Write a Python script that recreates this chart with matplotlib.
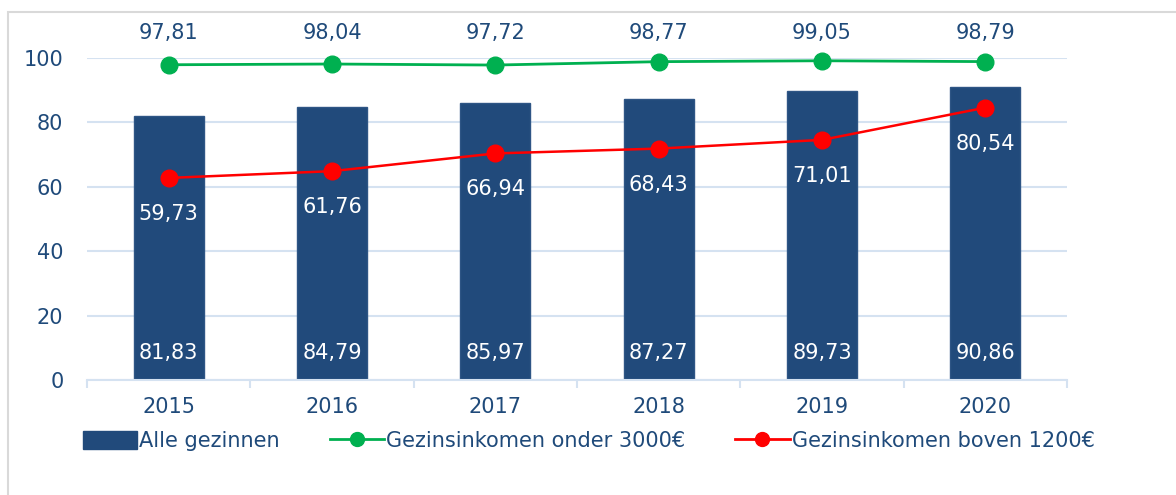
import matplotlib
matplotlib.use("Agg")
import matplotlib.pyplot as plt
from matplotlib.lines import Line2D
from matplotlib.patches import Patch, Rectangle
import numpy as np

years = ["2015", "2016", "2017", "2018", "2019", "2020"]
alle_gezinnen = [81.83, 84.79, 85.97, 87.27, 89.73, 90.86]
onder_3000 = [97.81, 98.04, 97.72, 98.77, 99.05, 98.79]
boven_1200_points = [62.7, 64.8, 70.3, 71.8, 74.5, 84.5]
boven_1200_labels = [59.73, 61.76, 66.94, 68.43, 71.01, 80.54]
yticks = [0, 20, 40, 60, 80, 100]

navy = "#214A7B"
green = "#00B050"
red = "#FF0000"
txt = "#1F4A7A"
grid = "#D5E2F1"

plt.rcParams['font.family'] = ['DejaVu Sans']

fig = plt.figure(figsize=(11.76, 4.95), dpi=100)
ax = fig.add_axes([87/1176, 1-380/495, 980/1176, (380-57.7)/495])

x = np.arange(len(years))
ax.bar(x, alle_gezinnen, width=0.43, color=navy, edgecolor="#2E5585", lw=1, zorder=2)
ax.plot(x, onder_3000, color=green, lw=2, marker='o', ms=12, zorder=3, clip_on=False)
ax.plot(x, boven_1200_points, color=red, lw=1.8, marker='o', ms=12, zorder=3, clip_on=False)

def fmt(v):
    return f"{v:.2f}".replace('.', ',')

for i in range(len(years)):
    ax.annotate(fmt(alle_gezinnen[i]), (x[i], 0), xytext=(0, 27), textcoords='offset pixels',
                ha='center', va='center', color='white', fontsize=15, zorder=4)
    ax.annotate(fmt(onder_3000[i]), (x[i], 100), xytext=(0, 25), textcoords='offset pixels',
                ha='center', va='center', color=txt, fontsize=15, zorder=4, annotation_clip=False)
    ax.annotate(fmt(boven_1200_labels[i]), (x[i], boven_1200_points[i]), xytext=(0, -36),
                textcoords='offset pixels', ha='center', va='center', color='white', fontsize=15, zorder=4)

ax.set_xlim(-0.5, len(years) - 0.5)
ax.set_ylim(0, 100)
ax.set_yticks(yticks)
ax.set_yticklabels([str(t) for t in yticks])
ax.set_xticks(x)
ax.set_xticklabels(years)
ax.set_xticks(np.arange(-0.5, len(years), 1.0), minor=True)
ax.tick_params(axis='y', length=0, pad=17, labelsize=15, labelcolor=txt)
ax.tick_params(axis='x', which='major', length=0, pad=12, labelsize=15, labelcolor=txt)
ax.tick_params(axis='x', which='minor', length=6, width=1.5, color=grid)
ax.grid(axis='y', color=grid, lw=1.5, zorder=0)
ax.set_axisbelow(True)
for s in ['left', 'right', 'top']:
    ax.spines[s].set_visible(False)
ax.spines['bottom'].set_color(grid)
ax.spines['bottom'].set_linewidth(1.5)

handles = [
    Patch(facecolor=navy, edgecolor=navy),
    Line2D([0], [0], color=green, lw=2, marker='o', ms=10),
    Line2D([0], [0], color=red, lw=2, marker='o', ms=10),
]
labels = ["Alle gezinnen", "Gezinsinkomen onder 3000€", "Gezinsinkomen boven 1200€"]
leg = fig.legend(handles, labels, loc='center left', bbox_to_anchor=(83/1176, 1-441/495), ncol=3,
                 frameon=False, fontsize=15, labelcolor=txt, handlelength=2.6, handleheight=1.0,
                 handletextpad=0.1, columnspacing=2.4, borderaxespad=0, borderpad=0)

fig.patches.append(Rectangle((8/1176, -0.1), 1.2, 1 - 12/495 + 0.1, transform=fig.transFigure,
                             fill=False, edgecolor="#D9D9D9", lw=1.5, zorder=0))

fig.savefig("out.png", dpi=100)
